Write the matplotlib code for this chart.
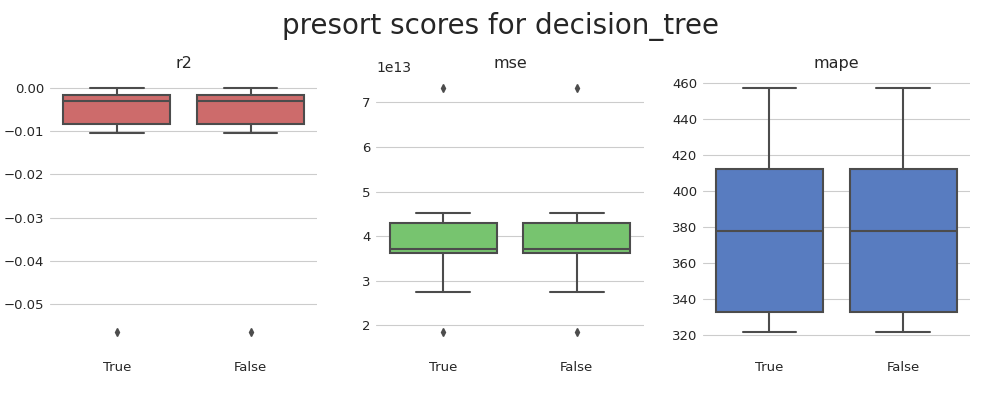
import matplotlib
matplotlib.use("Agg")
import matplotlib.pyplot as plt
import seaborn as sns

sns.set_style("whitegrid")

labels = ["True", "False"]
metrics = ["r2", "mse", "mape"]
colors = ["#cd6b6b", "#77c46f", "#587cc0"]

# whislo, q1, med, q3, whishi, fliers
r2_stats = [-0.0103, -0.0083, -0.0030, -0.0015, 0.0, [-0.0565]]
mse_stats = [2.75e13, 3.62e13, 3.70e13, 4.30e13, 4.52e13, [1.85e13, 7.32e13]]
mape_stats = [322, 333, 378, 412, 457, []]
all_stats = [r2_stats, mse_stats, mape_stats]

fig, axes = plt.subplots(1, 3, figsize=(10, 4), dpi=100)
for ax, name, st, c in zip(axes, metrics, all_stats, colors):
    boxes = []
    for lab in labels:
        boxes.append(dict(whislo=st[0], q1=st[1], med=st[2], q3=st[3],
                          whishi=st[4], fliers=st[5], label=lab))
    gray = "#4c4c4c"
    bp = ax.bxp(boxes, widths=0.8, patch_artist=True, showcaps=True,
                boxprops=dict(edgecolor=gray, linewidth=1.5),
                medianprops=dict(color=gray, linewidth=1.5),
                whiskerprops=dict(color=gray, linewidth=1.5),
                capprops=dict(color=gray, linewidth=1.5),
                flierprops=dict(marker="d", markerfacecolor=gray,
                                markeredgecolor=gray, markersize=4))
    for b in bp["boxes"]:
        b.set_facecolor(c)
    ax.set_title(name, fontsize=11.5)
    ax.xaxis.grid(False)
    ax.tick_params(axis="x", length=0, labelsize=9.5, pad=12)
    ax.tick_params(axis="y", length=0, labelsize=9.5, pad=4)
    for s in ax.spines.values():
        s.set_visible(False)
    ax.set_xlim(0.5, 2.5)

axes[1].set_yticks([2e13, 3e13, 4e13, 5e13, 6e13, 7e13])
axes[2].set_yticks(range(320, 461, 20))
axes[0].set_yticks([0.0, -0.01, -0.02, -0.03, -0.04, -0.05])
axes[0].set_yticklabels(["0.00", "\u22120.01", "\u22120.02", "\u22120.03", "\u22120.04", "\u22120.05"])

fig.suptitle("presort scores for decision_tree", fontsize=20, y=0.97)
fig.subplots_adjust(left=0.05, right=0.97, top=0.81, bottom=0.14, wspace=0.22)
fig.savefig("out.png")
